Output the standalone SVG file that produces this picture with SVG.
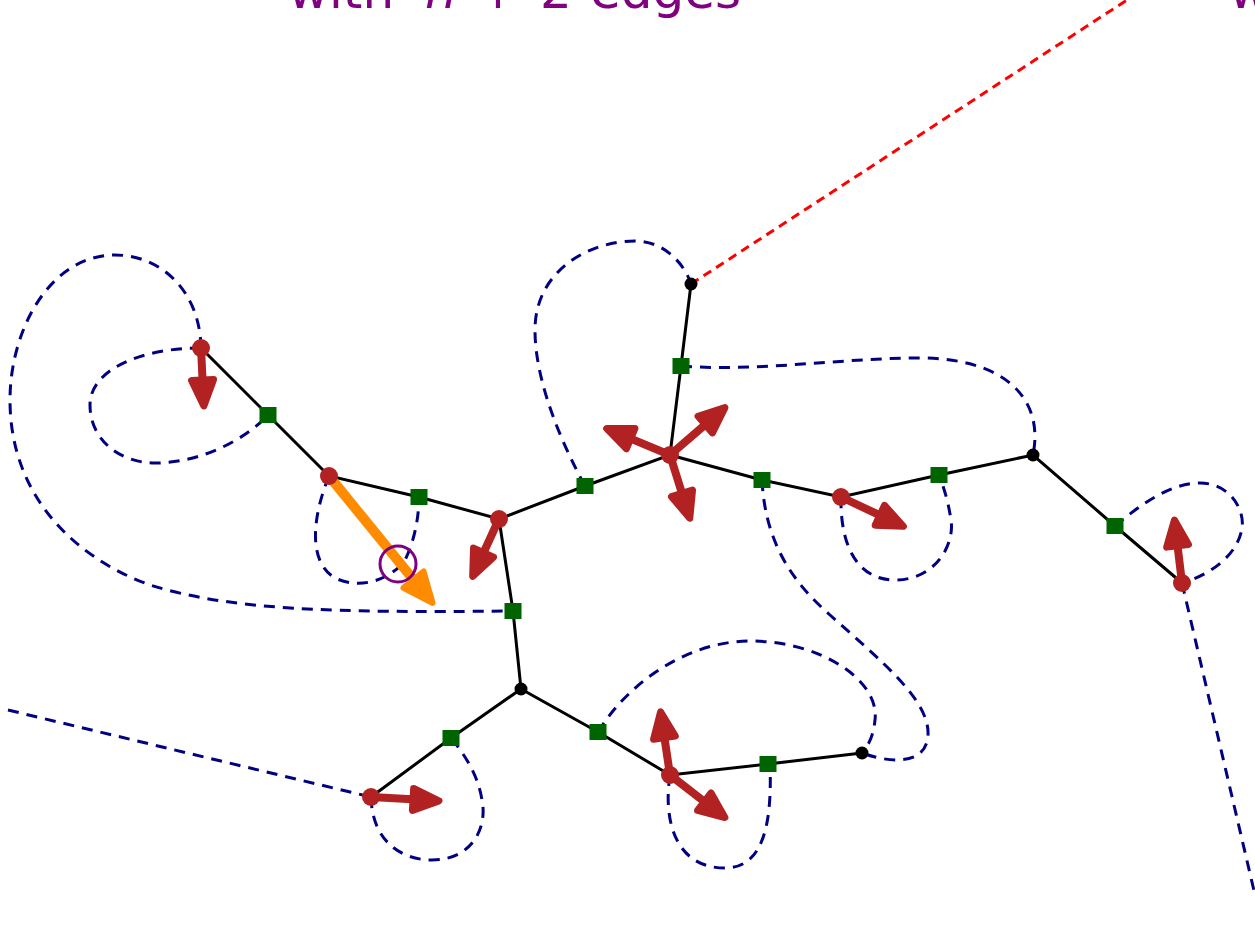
<svg xmlns="http://www.w3.org/2000/svg" width="1255" height="947" viewBox="0 0 1255 947">
<style>
.dash{fill:none;stroke:#000080;stroke-width:3;stroke-dasharray:11 8}
.rdash{fill:none;stroke:#ff0000;stroke-width:3;stroke-dasharray:9 6}
.edge{fill:none;stroke:#000;stroke-width:3}
.arr{fill:none;stroke:#b22222;stroke-width:8;stroke-linecap:round;marker-end:url(#hr)}
.oarr{fill:none;stroke:#ff8c00;stroke-width:10;stroke-linecap:round;marker-end:url(#ho)}
.red{fill:#b22222}
.blk{fill:#000}
.grn{fill:#006400}
.lbl{font-family:"DejaVu Sans",sans-serif;font-size:50px;fill:#800080}
</style>
<defs>
<marker id="hr" markerUnits="userSpaceOnUse" viewBox="-5 -17 42 34" markerWidth="42" markerHeight="34" refX="15" refY="0" orient="auto" overflow="visible">
<path d="M2,-11 L28,0 L2,11 Z" fill="#b22222" stroke="#b22222" stroke-width="7" stroke-linejoin="round"/>
</marker>
<marker id="ho" markerUnits="userSpaceOnUse" viewBox="-5 -19 46 38" markerWidth="46" markerHeight="38" refX="17" refY="0" orient="auto" overflow="visible">
<path d="M2,-13 L32,0 L2,13 Z" fill="#ff8c00" stroke="#ff8c00" stroke-width="6" stroke-linejoin="round"/>
</marker>
</defs>
<rect width="1255" height="947" fill="#fff"/>
<g id="labels">
<text class="lbl" x="288" y="8">with</text>
<text class="lbl" x="425" y="8" font-style="italic">n</text>
<text class="lbl" x="477" y="8">+</text>
<text class="lbl" x="540" y="8">2</text>
<text class="lbl" x="590" y="8">edges</text>
<text class="lbl" x="1229" y="8">w</text>
</g>
<g id="connectors">
<path class="dash" d="M201,348 C200,290 160,255 115,255 C50,255 10,330 10,400 C10,500 80,560 150,585 C230,610 330,613 513,611"/>
<path class="dash" d="M201,348 C140,348 90,370 90,405 C90,440 120,463 155,463 C200,463 245,440 268,415"/>
<path class="dash" d="M329,476 C315,510 305,560 335,578 C365,592 395,575 405,560 C415,540 419,515 419,497"/>
<path class="dash" d="M585,486 C560,440 535,380 535,330 C535,270 590,241 635,241 C665,241 685,265 691,284"/>
<path class="dash" d="M681,366 C760,372 840,358 920,358 C1000,358 1045,395 1033,455"/>
<path class="dash" d="M762,480 C765,540 790,580 830,615 C880,660 930,700 928,735 C926,770 880,760 862,753"/>
<path class="dash" d="M841,497 C840,550 860,580 895,580 C935,580 955,545 951,520 C948,500 943,485 939,475"/>
<path class="dash" d="M1115,526 C1140,505 1170,483 1200,483 C1230,483 1245,510 1242,528 C1238,555 1210,575 1182,583"/>
<path class="dash" d="M1182,583 L1255,895"/>
<path class="dash" d="M8,710 L371,797"/>
<path class="dash" d="M371,797 C372,840 400,860 432,860 C470,860 488,830 482,800 C478,775 465,755 451,738"/>
<path class="dash" d="M598,732 C630,680 690,641 750,641 C820,641 880,680 875,720 C873,740 866,748 862,753"/>
<path class="dash" d="M670,775 C663,820 675,868 725,868 C765,868 772,820 770,764"/>
<path class="rdash" d="M691,284 L1127,0"/>
<path class="edge" d="M201,348 L268,415 L329,476 L419,497 L499,519 L585,486 L670,455 L681,366 L691,284"/>
<path class="edge" d="M670,455 L762,480 L841,497 L939,475 L1033,455 L1115,526 L1182,583"/>
<path class="edge" d="M499,519 L513,611 L521,689 L451,738 L371,797"/>
<path class="edge" d="M521,689 L598,732 L670,775 L768,764 L862,753"/>
</g>
<g id="arrows">
<path class="arr" d="M201,348 L203.2,393"/>
<path class="oarr" d="M329,476 L423,591.3"/>
<path class="arr" d="M499,519 L478.1,564.5"/>
<path class="arr" d="M670,455 L618.7,433.6"/>
<path class="arr" d="M670,455 L715.1,416.1"/>
<path class="arr" d="M670,455 L685.9,505.8"/>
<path class="arr" d="M841,497 L891.6,520.8"/>
<path class="arr" d="M1182,583 L1176,532.9"/>
<path class="arr" d="M371,797 L426,800.1"/>
<path class="arr" d="M670,775 L662.5,724.8"/>
<path class="arr" d="M670,775 L714.6,809.6"/>
</g>
<g id="nA"><circle class="red" cx="201" cy="348" r="9"/></g>
<g id="nB"><circle class="red" cx="329" cy="476" r="9"/></g>
<g id="nC"><circle class="red" cx="499" cy="519" r="9"/></g>
<g id="nD"><circle class="red" cx="670" cy="455" r="9"/></g>
<g id="nE"><circle class="red" cx="841" cy="497" r="9"/></g>
<g id="nF"><circle class="red" cx="1182" cy="583" r="9"/></g>
<g id="nG"><circle class="red" cx="371" cy="797" r="9"/></g>
<g id="nH"><circle class="red" cx="670" cy="775" r="9"/></g>
<g id="k1"><circle class="blk" cx="691" cy="284" r="6.5"/></g>
<g id="k2"><circle class="blk" cx="1033" cy="455" r="6.5"/></g>
<g id="k3"><circle class="blk" cx="521" cy="689" r="6.5"/></g>
<g id="k4"><circle class="blk" cx="862" cy="753" r="6.5"/></g>
<g id="s1"><rect class="grn" x="259.5" y="407" width="17" height="16"/></g>
<g id="s2"><rect class="grn" x="410.5" y="489" width="17" height="16"/></g>
<g id="s3"><rect class="grn" x="576.5" y="478" width="17" height="16"/></g>
<g id="s4"><rect class="grn" x="672.5" y="358" width="17" height="16"/></g>
<g id="s5"><rect class="grn" x="753.5" y="472" width="17" height="16"/></g>
<g id="s6"><rect class="grn" x="930.5" y="467" width="17" height="16"/></g>
<g id="s7"><rect class="grn" x="1106.5" y="518" width="17" height="16"/></g>
<g id="s8"><rect class="grn" x="504.5" y="603" width="17" height="16"/></g>
<g id="s9"><rect class="grn" x="442.5" y="730" width="17" height="16"/></g>
<g id="s10"><rect class="grn" x="589.5" y="724" width="17" height="16"/></g>
<g id="s11"><rect class="grn" x="759.5" y="756" width="17" height="16"/></g>
<g id="mark"><circle cx="398" cy="564" r="18" fill="none" stroke="#800080" stroke-width="3"/></g>
</svg>
